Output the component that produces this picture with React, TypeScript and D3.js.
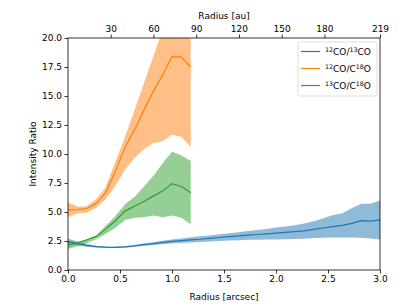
import React, { useRef, useEffect } from 'react';
import * as d3 from 'd3';

// radius sampling [arcsec]
const radius = [0, 0.09, 0.18, 0.27, 0.36, 0.45, 0.55, 0.64, 0.73, 0.82, 0.91, 1.0, 1.09, 1.18,
  1.27, 1.36, 1.45, 1.55, 1.64, 1.73, 1.82, 1.91, 2.0, 2.09, 2.18, 2.27, 2.36, 2.45, 2.55, 2.64,
  2.73, 2.82, 2.91, 3.0];

// 12CO/13CO
const ratio1213 = [2.45, 2.28, 2.12, 2.02, 1.97, 1.95, 2.0, 2.08, 2.18, 2.28, 2.38, 2.46, 2.53, 2.6,
  2.65, 2.72, 2.8, 2.88, 2.94, 3.0, 3.06, 3.12, 3.18, 3.24, 3.3, 3.38, 3.5, 3.62, 3.74, 3.84,
  4.02, 4.25, 4.22, 4.32];
const ratio1213Hi = [2.7, 2.45, 2.25, 2.1, 2.03, 2.01, 2.07, 2.16, 2.28, 2.4, 2.52, 2.62, 2.72, 2.82,
  2.9, 2.98, 3.06, 3.16, 3.26, 3.36, 3.45, 3.54, 3.66, 3.76, 3.86, 4.0, 4.2, 4.45, 4.75, 4.9,
  5.35, 5.72, 5.72, 6.0];
const ratio1213Lo = [2.25, 2.12, 2.0, 1.94, 1.9, 1.89, 1.93, 2.0, 2.08, 2.15, 2.22, 2.28, 2.33, 2.38,
  2.42, 2.46, 2.5, 2.55, 2.57, 2.6, 2.6, 2.62, 2.63, 2.65, 2.67, 2.7, 2.75, 2.78, 2.8, 2.8,
  2.8, 2.78, 2.72, 2.62];

// 12CO/C18O (first 14 radii)
const ratio1218 = [5.19, 5.2, 5.3, 5.73, 6.65, 8.4, 10.6, 12.1, 13.8, 15.4, 16.8, 18.4, 18.35, 17.5];
const ratio1218Hi = [5.85, 5.45, 5.5, 6.1, 7.1, 9.2, 11.5, 13.8, 16.1, 18.4, 20.7, 22, 23, 24];
const ratio1218Lo = [4.56, 4.87, 4.93, 5.36, 6.08, 7.17, 8.66, 9.66, 10.4, 10.95, 11.1, 11.67, 11.47, 10.6];

// 13CO/C18O (first 14 radii)
const ratio1318 = [2.12, 2.35, 2.6, 2.9, 3.5, 4.2, 5.1, 5.5, 5.9, 6.37, 6.8, 7.45, 7.2, 6.65];
const ratio1318Hi = [2.5, 2.4, 2.55, 2.95, 3.8, 4.6, 5.7, 6.3, 7.2, 8.1, 9.2, 10.2, 9.9, 9.4];
const ratio1318Lo = [1.8, 2.05, 2.3, 2.65, 3.1, 3.6, 4.3, 4.5, 4.55, 4.7, 4.55, 4.7, 4.5, 3.95];

const xTicks = [0, 0.5, 1.0, 1.5, 2.0, 2.5, 3.0];
const yTicks = [0, 2.5, 5, 7.5, 10, 12.5, 15, 17.5, 20];
const auTicks = [30, 60, 90, 120, 150, 180, 219];
const AU_PER_ARCSEC = 73;

const series = [
  { iso: ['12', 'CO/', '13', 'CO'], color: '#1f77b4', mid: ratio1213, hi: ratio1213Hi, lo: ratio1213Lo },
  { iso: ['12', 'CO/C', '18', 'O'], color: '#ff7f0e', mid: ratio1218, hi: ratio1218Hi, lo: ratio1218Lo },
  { iso: ['13', 'CO/C', '18', 'O'], color: '#2ca02c', mid: ratio1318, hi: ratio1318Hi, lo: ratio1318Lo },
];

const W = 415, H = 308;
const margin = { top: 38, right: 35, bottom: 38, left: 68 };

export default function App() {
  const ref = useRef<SVGSVGElement>(null);

  useEffect(() => {
    if (!ref.current) return;
    const svg = d3.select(ref.current);
    svg.selectAll('*').remove();

    const width = W - margin.left - margin.right;
    const height = H - margin.top - margin.bottom;
    const font = 'DejaVu Sans, sans-serif';

    const g = svg.append('g').attr('transform', `translate(${margin.left},${margin.top})`);

    const x = d3.scaleLinear().domain([0, 3]).range([0, width]);
    const y = d3.scaleLinear().domain([0, 20]).range([height, 0]);

    svg.append('defs').append('clipPath').attr('id', 'plotclip')
      .append('rect').attr('width', width).attr('height', height);

    const data = g.append('g').attr('clip-path', 'url(#plotclip)');

    series.forEach(s => {
      const idx = s.mid.map((_, i) => i);
      const area = d3.area<number>()
        .x(i => x(radius[i]))
        .y0(i => y(s.lo[i]))
        .y1(i => y(s.hi[i]));
      data.append('path').datum(idx)
        .attr('d', area)
        .attr('fill', s.color)
        .attr('fill-opacity', 0.5);
      const line = d3.line<number>().x(i => x(radius[i])).y(i => y(s.mid[i]));
      data.append('path').datum(idx)
        .attr('d', line)
        .attr('fill', 'none')
        .attr('stroke', s.color)
        .attr('stroke-width', 1.2);
    });

    const styleAxis = (a: d3.Selection<SVGGElement, unknown, null, undefined>) => {
      a.select('.domain').remove();
      a.selectAll('line').attr('stroke', '#000').attr('stroke-width', 0.8);
      a.selectAll('text').attr('fill', '#000').style('font-family', font).style('font-size', '9px');
    };

    const xAxis = g.append('g').attr('transform', `translate(0,${height})`)
      .call(d3.axisBottom(x).tickValues(xTicks).tickFormat(d3.format('.1f')).tickSize(3.5).tickPadding(2.5));
    styleAxis(xAxis);

    const yAxis = g.append('g')
      .call(d3.axisLeft(y).tickValues(yTicks).tickFormat(d3.format('.1f')).tickSize(3.5).tickPadding(2.5));
    styleAxis(yAxis);

    const xTop = d3.scaleLinear().domain([0, 3 * AU_PER_ARCSEC]).range([0, width]);
    const topAxis = g.append('g')
      .call(d3.axisTop(xTop).tickValues(auTicks).tickFormat(d3.format('d')).tickSize(3.5).tickPadding(2.5));
    styleAxis(topAxis);

    g.append('rect').attr('width', width).attr('height', height)
      .attr('fill', 'none').attr('stroke', '#000').attr('stroke-width', 0.8);

    g.append('text').attr('x', width / 2).attr('y', height + 30)
      .attr('text-anchor', 'middle').style('font-family', font).style('font-size', '9px')
      .text('Radius [arcsec]');
    g.append('text').attr('x', width / 2).attr('y', -19)
      .attr('text-anchor', 'middle').style('font-family', font).style('font-size', '9px')
      .text('Radius [au]');
    g.append('text').attr('transform', `translate(${-32},${height / 2}) rotate(-90)`)
      .attr('text-anchor', 'middle').style('font-family', font).style('font-size', '9px')
      .text('Intensity Ratio');

    // legend
    const lg = svg.append('g').attr('transform', 'translate(298,42)');
    lg.append('rect').attr('width', 79).attr('height', 54).attr('rx', 2)
      .attr('fill', '#fff').attr('fill-opacity', 0.8).attr('stroke', '#d6d6d6').attr('stroke-width', 0.8);
    series.forEach((s, i) => {
      const yy = 9.5 + i * 17;
      lg.append('line').attr('x1', 3).attr('x2', 22).attr('y1', yy).attr('y2', yy)
        .attr('stroke', s.color).attr('stroke-width', 1.2);
      const t = lg.append('text').attr('x', 27).attr('y', yy + 3.3)
        .style('font-family', font).style('font-size', '9px').attr('fill', '#000');
      t.append('tspan').attr('dy', -3).style('font-size', '6.3px').text(s.iso[0]);
      t.append('tspan').attr('dy', 3).text(s.iso[1]);
      t.append('tspan').attr('dy', -3).style('font-size', '6.3px').text(s.iso[2]);
      t.append('tspan').attr('dy', 3).text(s.iso[3]);
    });
  }, []);

  return (
    <div style={{ position: 'absolute', left: 0, top: 0 }}>
      <svg ref={ref} width={W} height={H} style={{ display: 'block', background: '#fff' }} />
    </div>
  );
}
